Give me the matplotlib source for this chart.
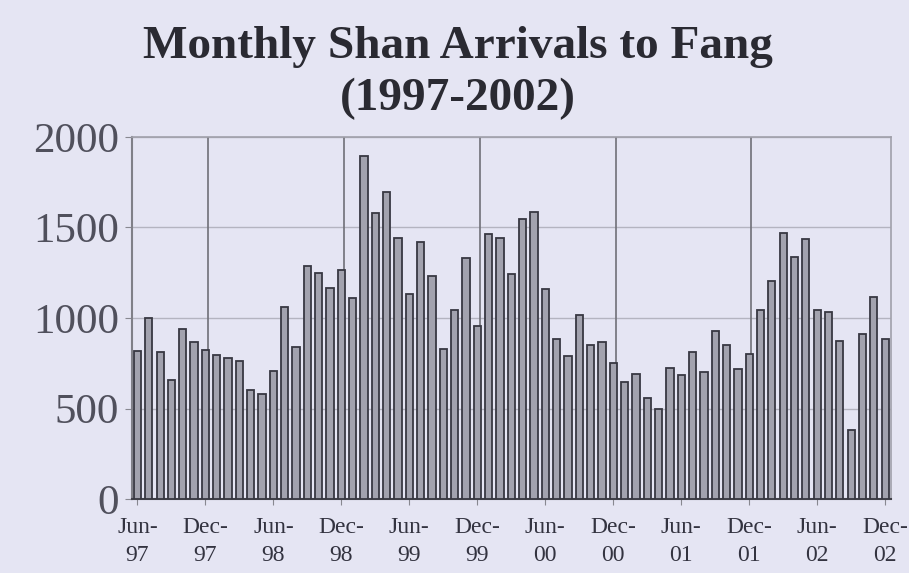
import matplotlib
matplotlib.use("Agg")
import matplotlib.pyplot as plt
import numpy as np

months = ["Jun-97","Jul-97","Aug-97","Sep-97","Oct-97","Nov-97","Dec-97",
          "Jan-98","Feb-98","Mar-98","Apr-98","May-98","Jun-98","Jul-98","Aug-98","Sep-98","Oct-98","Nov-98","Dec-98",
          "Jan-99","Feb-99","Mar-99","Apr-99","May-99","Jun-99","Jul-99","Aug-99","Sep-99","Oct-99","Nov-99","Dec-99",
          "Jan-00","Feb-00","Mar-00","Apr-00","May-00","Jun-00","Jul-00","Aug-00","Sep-00","Oct-00","Nov-00","Dec-00",
          "Jan-01","Feb-01","Mar-01","Apr-01","May-01","Jun-01","Jul-01","Aug-01","Sep-01","Oct-01","Nov-01","Dec-01",
          "Jan-02","Feb-02","Mar-02","Apr-02","May-02","Jun-02","Jul-02","Aug-02","Sep-02","Oct-02","Nov-02","Dec-02"]
arrivals = [820, 1000, 810, 660, 940, 870, 825,
            795, 780, 765, 605, 582, 707, 1060, 840, 1290, 1250, 1165, 1265,
            1110, 1895, 1578, 1695, 1444, 1133, 1422, 1234, 827, 1043, 1330, 956,
            1465, 1444, 1243, 1545, 1586, 1160, 882, 792, 1015, 851, 866, 750,
            646, 691, 558, 497, 726, 687, 812, 704, 926, 851, 718, 799,
            1043, 1204, 1468, 1339, 1438, 1043, 1033, 875, 383, 912, 1116, 882]
tick_labels = ["Jun-\n97","Dec-\n97","Jun-\n98","Dec-\n98","Jun-\n99","Dec-\n99",
               "Jun-\n00","Dec-\n00","Jun-\n01","Dec-\n01","Jun-\n02","Dec-\n02"]
y_ticks = [0, 500, 1000, 1500, 2000]

bg = "#e5e5f3"
fig = plt.figure(figsize=(9.09, 5.73), dpi=100, facecolor=bg)
ax = fig.add_axes([0.145, 0.129, 0.835, 0.632], facecolor=bg)

x = np.arange(len(arrivals))
ax.bar(x, arrivals, width=0.64, color="#a2a2ae", edgecolor="#383842", linewidth=1.3, zorder=3)

ax.set_xlim(-0.5, len(arrivals) - 0.5)
ax.set_ylim(0, 2000)
ax.set_yticks(y_ticks)
ax.set_yticklabels([str(v) for v in y_ticks], fontsize=31, family="Liberation Serif", color="#50505c")
ax.set_xticks(x[::6])
ax.set_xticklabels(tick_labels, fontsize=17, family="Liberation Serif", color="#333340", linespacing=1.45)
ax.tick_params(axis="y", length=5, color="#888890", pad=4)
ax.tick_params(axis="x", length=4, color="#888890", pad=9)

for yv in y_ticks[1:]:
    ax.axhline(yv, color="#b4b4c0", linewidth=1.0, zorder=1)
for xv in x[6::12]:
    if xv < len(arrivals) - 1:
        ax.axvline(xv + 0.2, color="#707078", linewidth=1.2, zorder=2)

for s in ["top", "right"]:
    ax.spines[s].set_color("#a0a0aa")
    ax.spines[s].set_linewidth(1.2)
ax.spines["left"].set_color("#808088")
ax.spines["left"].set_linewidth(1.5)
ax.spines["bottom"].set_color("#404048")
ax.spines["bottom"].set_linewidth(1.5)

fig.text(0.504, 0.918, "Monthly Shan Arrivals to Fang", ha="center", va="center",
         fontsize=34, fontweight="bold", family="Liberation Serif", color="#2a2a32")
fig.text(0.504, 0.828, "(1997-2002)", ha="center", va="center",
         fontsize=34, fontweight="bold", family="Liberation Serif", color="#2a2a32")

fig.savefig("out.png", dpi=100, facecolor=bg)
